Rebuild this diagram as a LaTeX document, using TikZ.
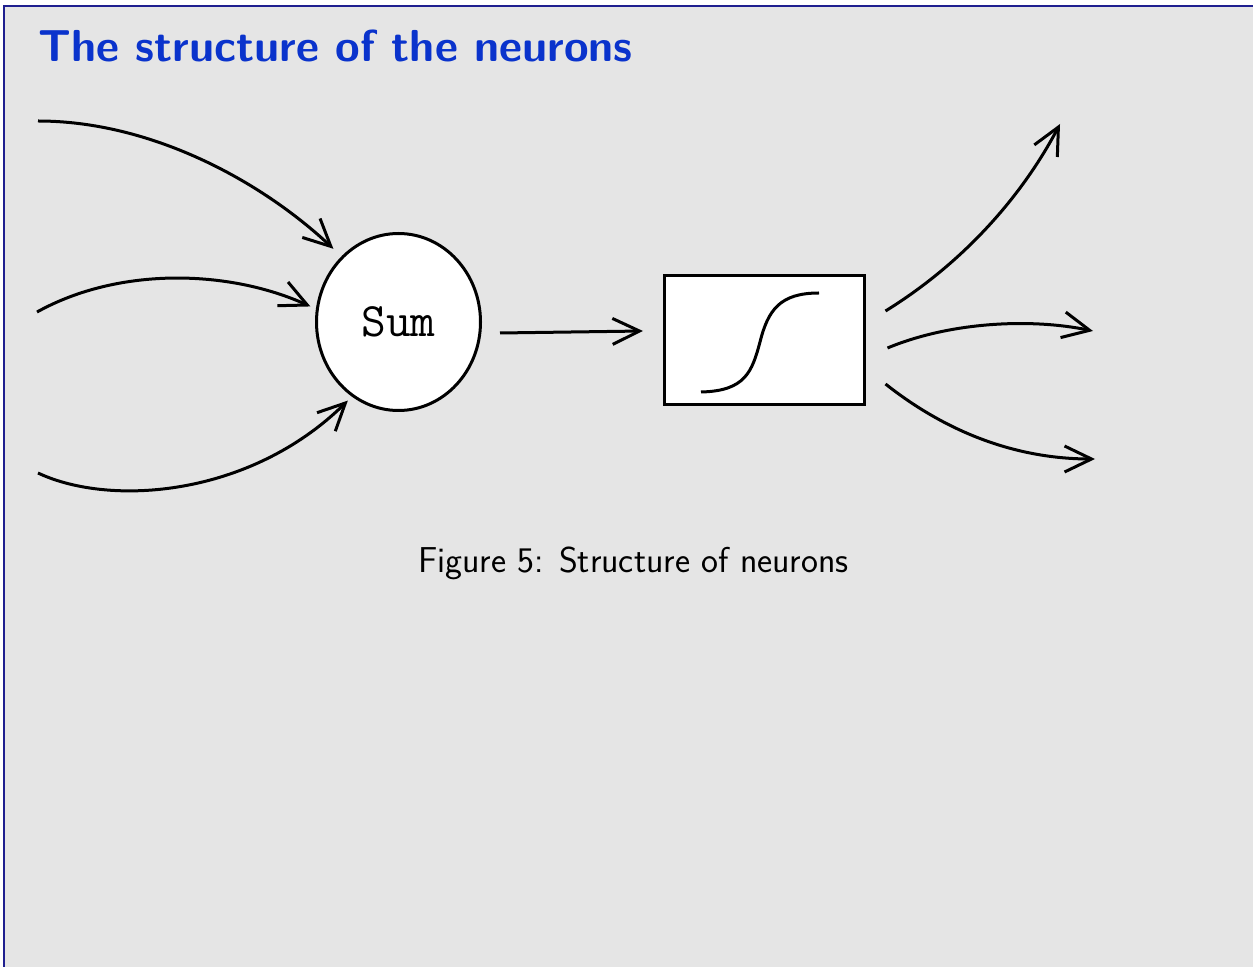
\documentclass[tikz,border=0pt]{standalone}
\usepackage{fontspec}
\usetikzlibrary{arrows.meta,shapes.geometric}
\definecolor{pagebg}{HTML}{E5E5E5}
\definecolor{frameblue}{HTML}{1F1F8F}
\definecolor{titleblue}{HTML}{0A33CC}
\tikzset{
  arr/.style={line width=1.5pt, -{Straight Barb[length=13.5pt,width=13pt,line width=1.5pt]}},
  plain/.style={line width=1.5pt},
  sumnode/.style={ellipse, draw, fill=white, line width=1.5pt, minimum width=82pt, minimum height=88.5pt, inner sep=0pt},
  actbox/.style={rectangle, draw, fill=white, line width=1.5pt, minimum width=100pt, minimum height=64.5pt, inner sep=0pt},
}
\begin{document}
\begin{tikzpicture}[x=0.5pt,y=-0.5pt]
\useasboundingbox (0,0) rectangle (1253,967);
% slide background and frame
\fill[white] (0,0) rectangle (1253,967);
\fill[pagebg] (4,6) rectangle (1253,967);
\draw[frameblue, line width=0.8pt] (4,967) -- (4,6) -- (1253,6);
% title
\node[anchor=base west, inner sep=0pt, text=titleblue, font=\fontsize{22.4pt}{26pt}\selectfont\sffamily\bfseries] (title) at (38,62) {The structure of the neurons};
% nodes
\node[sumnode] (sum) at (398.5,322) {\fontsize{24pt}{28pt}\selectfont\ttfamily Sum};
\node[actbox] (box) at (764.5,340.5) {};
% sigmoid inside the box
\draw[plain] (701,392) .. controls (745,391) and (752,372) .. (760,342) .. controls (768,310) and (780,293) .. (819,293);
% input free ends
\coordinate (in1) at (38,121);
\coordinate (in2) at (37,312);
\coordinate (in3) at (38,473);
% output free ends
\coordinate (out1) at (1060,124);
\coordinate (out2) at (1093,331);
\coordinate (out3) at (1095,459);
% inputs
\draw[arr, shorten >=5.5pt] (in1) .. controls (150,121) and (260,180) .. (sum.131);
\draw[arr, shorten >=3pt] (in2) .. controls (120,266) and (230,270) .. (sum.171);
\draw[arr, shorten >=2.8pt] (in3) .. controls (110,507) and (250,497) .. (sum.238);
% sum to activation
\draw[arr] ([shift={(18,11)}]sum.east) -- ([shift={(-20,-9.5)}]box.west);
% outputs
\draw[arr] ([shift={(19.5,-29.5)}]box.east) .. controls (960,265) and (1020,200) .. (out1);
\draw[arr] ([shift={(21.5,7.5)}]box.east) .. controls (950,322) and (1030,318) .. (out2);
\draw[arr] ([shift={(19.5,43.5)}]box.east) .. controls (950,435) and (1020,459) .. (out3);
% caption
\node[anchor=base, inner sep=0pt, font=\fontsize{18pt}{21pt}\selectfont\sffamily] (caption) at (633.5,573) {Figure 5: Structure of neurons};
\end{tikzpicture}
\end{document}
